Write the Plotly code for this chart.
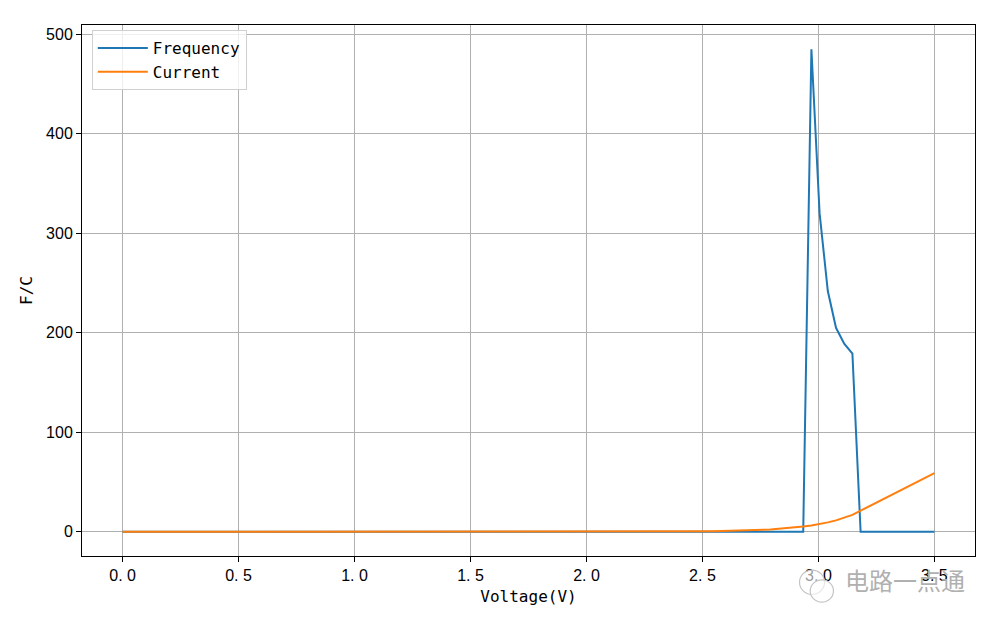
import plotly.graph_objects as go

# Voltage samples (100 points from 0 to 3.5 V)
n_points = 100
v_start, v_end = 0.0, 3.5
voltage = [v_start + i * (v_end - v_start) / (n_points - 1) for i in range(n_points)]

# Frequency (zero everywhere except the spike)
frequency = [0.0] * 84 + [485.0, 320.0, 242.0, 205.0, 189.0, 179.0] + [0.0] * 10

# Current
current_low = [0.0] * 60
current_rise = [0.05, 0.06, 0.08, 0.10, 0.13, 0.16, 0.20, 0.24, 0.29, 0.35,
                0.43, 0.52, 0.63, 0.76, 0.93, 1.13, 1.37, 1.66, 2.0, 2.4,
                3.0, 3.6, 4.4, 5.3, 6.4, 7.8, 9.5, 11.5, 14.0, 17.0]
current_lin = [21.2, 25.4, 29.6, 33.8, 38.0, 42.2, 46.4, 50.6, 54.8, 59.0]
current = current_low + current_rise + current_lin

x_ticks = [0.0, 0.5, 1.0, 1.5, 2.0, 2.5, 3.0, 3.5]
x_tick_text = ["0. 0", "0. 5", "1. 0", "1. 5", "2. 0", "2. 5", "3. 0", "3. 5"]
y_ticks = [0, 100, 200, 300, 400, 500]

MONO = "DejaVu Sans Mono, Noto Sans CJK SC, monospace"
SANS = "Liberation Sans, Arial, sans-serif"

fig = go.Figure()
fig.add_trace(go.Scatter(x=voltage, y=frequency, mode="lines", name="Frequency",
                         line=dict(color="#1f77b4", width=2)))
fig.add_trace(go.Scatter(x=voltage, y=current, mode="lines", name="Current",
                         line=dict(color="#ff7f0e", width=2)))

axis_common = dict(showline=True, linecolor="black", linewidth=1, mirror=True,
                   ticks="outside", ticklen=5, tickcolor="black",
                   showgrid=True, gridcolor="#b0b0b0", gridwidth=1,
                   zeroline=False, tickfont=dict(family=SANS, size=16, color="black"))

# the page body has an 8px margin, so the figure is shrunk by 8px to fit the window
fig.update_layout(
    width=992, height=617,
    margin=dict(l=74, r=25, t=17, b=69, autoexpand=False),
    paper_bgcolor="white", plot_bgcolor="white",
    font=dict(family=MONO, size=16, color="black"),
    xaxis=dict(range=[-0.175, 3.675], tickvals=x_ticks, ticktext=x_tick_text,
               title=dict(text="Voltage(V)", font=dict(family=MONO, size=16), standoff=7),
               **axis_common),
    yaxis=dict(range=[-24.3, 509.3], tickvals=y_ticks,
               title=dict(text="F/C", font=dict(family=MONO, size=16), standoff=9),
               **axis_common),
    legend=dict(x=0.011, y=0.9905, xanchor="left", yanchor="top",
                bgcolor="rgba(255,255,255,0.8)", bordercolor="#d0d0d0", borderwidth=1,
                font=dict(family=MONO, size=16), itemwidth=50),
    showlegend=True,
)

# watermark (WeChat-like icon + account name)
fig.add_shape(type="circle", xref="paper", yref="paper",
              x0=0.8035, x1=0.8315, y0=-0.0265, y1=-0.0725,
              line=dict(color="#c4c4c4", width=1.2), fillcolor="rgba(255,255,255,0.6)")
fig.add_shape(type="circle", xref="paper", yref="paper",
              x0=0.8155, x1=0.8415, y0=-0.045, y1=-0.087,
              line=dict(color="#c4c4c4", width=1.2), fillcolor="rgba(255,255,255,0.6)")
fig.add_annotation(text="电路一点通", xref="paper", yref="paper", x=0.852, y=-0.044,
                   xanchor="left", yanchor="middle", showarrow=False,
                   font=dict(family="Noto Sans CJK SC", size=24, color="#b0b0b0"))

fig.write_html("out.html")
